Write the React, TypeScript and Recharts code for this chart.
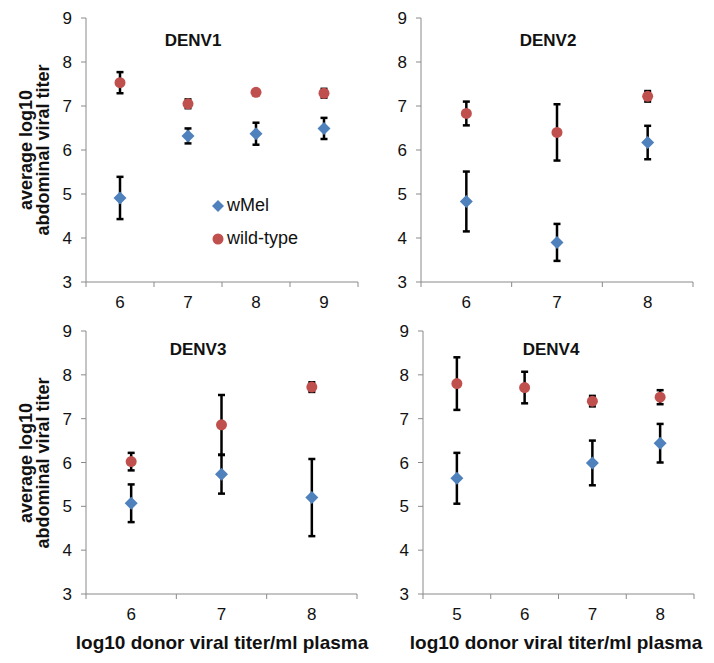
import React from 'react';
import { ScatterChart, Scatter, XAxis, YAxis, ErrorBar, Legend } from 'recharts';

// donor titer categories per serotype
const denv1Cats = ['6', '7', '8', '9'];
const denv2Cats = ['6', '7', '8'];
const denv3Cats = ['6', '7', '8'];
const denv4Cats = ['5', '6', '7', '8'];

// wMel means and error (+/-)
const denv1WMel = [4.91, 6.32, 6.37, 6.49];
const denv1WMelErr = [0.48, 0.17, 0.25, 0.24];
const denv2WMel = [4.83, 3.9, 6.17];
const denv2WMelErr = [0.68, 0.42, 0.38];
const denv3WMel = [5.07, 5.73, 5.2];
const denv3WMelErr = [0.43, 0.44, 0.88];
const denv4WMel = [5.64, null, 5.99, 6.44];
const denv4WMelErr = [0.58, null, 0.51, 0.44];

// wild-type means and error (+/-)
const denv1Wild = [7.53, 7.05, 7.31, 7.29];
const denv1WildErr = [0.24, 0.1, 0.05, 0.1];
const denv2Wild = [6.83, 6.4, 7.22];
const denv2WildErr = [0.27, 0.64, 0.12];
const denv3Wild = [6.02, 6.86, 7.72];
const denv3WildErr = [0.2, 0.68, 0.11];
const denv4Wild = [7.8, 7.71, 7.4, 7.49];
const denv4WildErr = [0.6, 0.36, 0.12, 0.16];

const yTicks = [3, 4, 5, 6, 7, 8, 9];

const BLUE = '#4F81BD';
const RED = '#C0504D';
const AXIS = '#8a8a8a';
const FONT = '"Liberation Sans", Arial, sans-serif';

const toPoints = (cats: string[], vals: (number | null)[], errs: (number | null)[]) =>
  cats
    .map((c, i) => ({ pos: i + 0.5, label: c, y: vals[i], err: errs[i] }))
    .filter((p) => p.y != null);

const Diamond = (p: any) => (
  <path
    d={`M${p.cx},${p.cy - 6.5}L${p.cx + 6.5},${p.cy}L${p.cx},${p.cy + 6.5}L${p.cx - 6.5},${p.cy}Z`}
    fill={BLUE}
  />
);
const Dot = (p: any) => <circle cx={p.cx} cy={p.cy} r={5.5} fill={RED} />;

const renderLegend = (props: any) => (
  <div style={{ fontFamily: FONT, fontSize: 18, color: '#111' }}>
    {(props.payload || []).map((entry: any) => (
      <div key={entry.value} style={{ display: 'flex', alignItems: 'center', height: 33 }}>
        <svg width={14} height={14} style={{ marginRight: 2 }}>
          {entry.value === 'wMel' ? (
            <path d="M7,1L13,7L7,13L1,7Z" fill={BLUE} />
          ) : (
            <circle cx={7} cy={7} r={5.5} fill={RED} />
          )}
        </svg>
        <span>{entry.value}</span>
      </div>
    ))}
  </div>
);

interface PanelProps {
  cats: string[];
  wMel: (number | null)[];
  wMelErr: (number | null)[];
  wild: number[];
  wildErr: number[];
  width: number;
  height: number;
  margin: { top: number; right: number; bottom: number; left: number };
  yWidth: number;
  xHeight: number;
  legend?: boolean;
}

const Panel: React.FC<PanelProps> = ({ cats, wMel, wMelErr, wild, wildErr, width, height, margin, yWidth, xHeight, legend }) => {
  const n = cats.length;
  const bounds = Array.from({ length: n + 1 }, (_, i) => i);
  const centers = cats.map((_, i) => i + 0.5);
  return (
    <ScatterChart width={width} height={height} margin={margin}>
      {/* boundary ticks between categories, Excel style */}
      <XAxis
        xAxisId="grid"
        type="number"
        dataKey="pos"
        domain={[0, n]}
        ticks={bounds}
        interval={0}
        allowDataOverflow
        tickFormatter={() => ''}
        tick={{ fontSize: 1 }}
        tickLine={{ stroke: AXIS }}
        tickSize={5}
        height={1}
        stroke={AXIS}
      />
      <XAxis
        xAxisId="lab"
        type="number"
        dataKey="pos"
        domain={[0, n]}
        ticks={centers}
        interval={0}
        allowDataOverflow
        tickFormatter={(v: number) => cats[Math.floor(v)]}
        axisLine={false}
        tickLine={false}
        tickSize={0}
        tickMargin={13}
        height={xHeight - 1}
        tick={{ fill: '#111', fontSize: 17, fontFamily: FONT }}
      />
      <YAxis
        type="number"
        dataKey="y"
        domain={[3, 9]}
        ticks={yTicks}
        interval={0}
        allowDataOverflow
        width={yWidth}
        tickSize={5}
        tickMargin={9}
        stroke={AXIS}
        tick={{ fill: '#111', fontSize: 17, fontFamily: FONT }}
      />
      {legend && (
        <Legend
          layout="vertical"
          align="center"
          verticalAlign="middle"
          content={renderLegend}
          wrapperStyle={{ left: 211, top: 189, width: 'auto' }}
        />
      )}
      <Scatter
        name="wMel"
        xAxisId="grid"
        data={toPoints(cats, wMel, wMelErr)}
        shape={Diamond}
        fill={BLUE}
        isAnimationActive={false}
      >
        <ErrorBar dataKey="err" direction="y" width={3.5} strokeWidth={2.5} stroke="#000" />
      </Scatter>
      <Scatter
        name="wild-type"
        xAxisId="lab"
        data={toPoints(cats, wild, wildErr)}
        shape={Dot}
        fill={RED}
        isAnimationActive={false}
      >
        <ErrorBar dataKey="err" direction="y" width={3.5} strokeWidth={2.5} stroke="#000" />
      </Scatter>
    </ScatterChart>
  );
};

const YTitle = ({ cy }: { cy: number }) => (
  <g transform={`translate(0,${cy}) rotate(-90)`}>
    <text textAnchor="middle" fontFamily={FONT} fontWeight="bold" fontSize={18} fill="#111">
      <tspan x={0} y={32}>average log10</tspan>
      <tspan x={0} y={49}>abdominal viral titer</tspan>
    </text>
  </g>
);

const App: React.FC = () => {
  const title = { fontFamily: FONT, fontWeight: 'bold' as const, fontSize: 17, fill: '#111', textAnchor: 'middle' as const };
  const xTitle = { fontFamily: FONT, fontWeight: 'bold' as const, fontSize: 19, fill: '#111', textAnchor: 'middle' as const };
  return (
    <div style={{ position: 'absolute', left: 0, top: 0, width: 714, height: 663, background: '#fff' }}>
      <div style={{ position: 'absolute', left: 0, top: 0 }}>
        <Panel cats={denv1Cats} wMel={denv1WMel} wMelErr={denv1WMelErr} wild={denv1Wild} wildErr={denv1WildErr}
          width={360} height={320} margin={{ top: 18, right: 2, bottom: 0, left: 30 }} yWidth={56} xHeight={38} legend />
      </div>
      <div style={{ position: 'absolute', left: 355, top: 0 }}>
        <Panel cats={denv2Cats} wMel={denv2WMel} wMelErr={denv2WMelErr} wild={denv2Wild} wildErr={denv2WildErr}
          width={359} height={320} margin={{ top: 18, right: 21, bottom: 0, left: 0 }} yWidth={66} xHeight={38} />
      </div>
      <div style={{ position: 'absolute', left: 0, top: 320 }}>
        <Panel cats={denv3Cats} wMel={denv3WMel} wMelErr={denv3WMelErr} wild={denv3Wild} wildErr={denv3WildErr}
          width={360} height={343} margin={{ top: 11, right: 3, bottom: 0, left: 30 }} yWidth={56} xHeight={69} />
      </div>
      <div style={{ position: 'absolute', left: 355, top: 320 }}>
        <Panel cats={denv4Cats} wMel={denv4WMel} wMelErr={denv4WMelErr} wild={denv4Wild} wildErr={denv4WildErr}
          width={359} height={343} margin={{ top: 11, right: 20, bottom: 0, left: 0 }} yWidth={68} xHeight={69} />
      </div>
      <svg width={714} height={663} style={{ position: 'absolute', left: 0, top: 0, pointerEvents: 'none' }}>
        <text x={193} y={46} {...title}>DENV1</text>
        <text x={548} y={46} {...title}>DENV2</text>
        <text x={198} y={355} {...title}>DENV3</text>
        <text x={551} y={355} {...title}>DENV4</text>
        <YTitle cy={150} />
        <YTitle cy={463} />
        <text x={222} y={649} {...xTitle}>log10 donor viral titer/ml plasma</text>
        <text x={556} y={649} {...xTitle}>log10 donor viral titer/ml plasma</text>
      </svg>
    </div>
  );
};

export default App;
